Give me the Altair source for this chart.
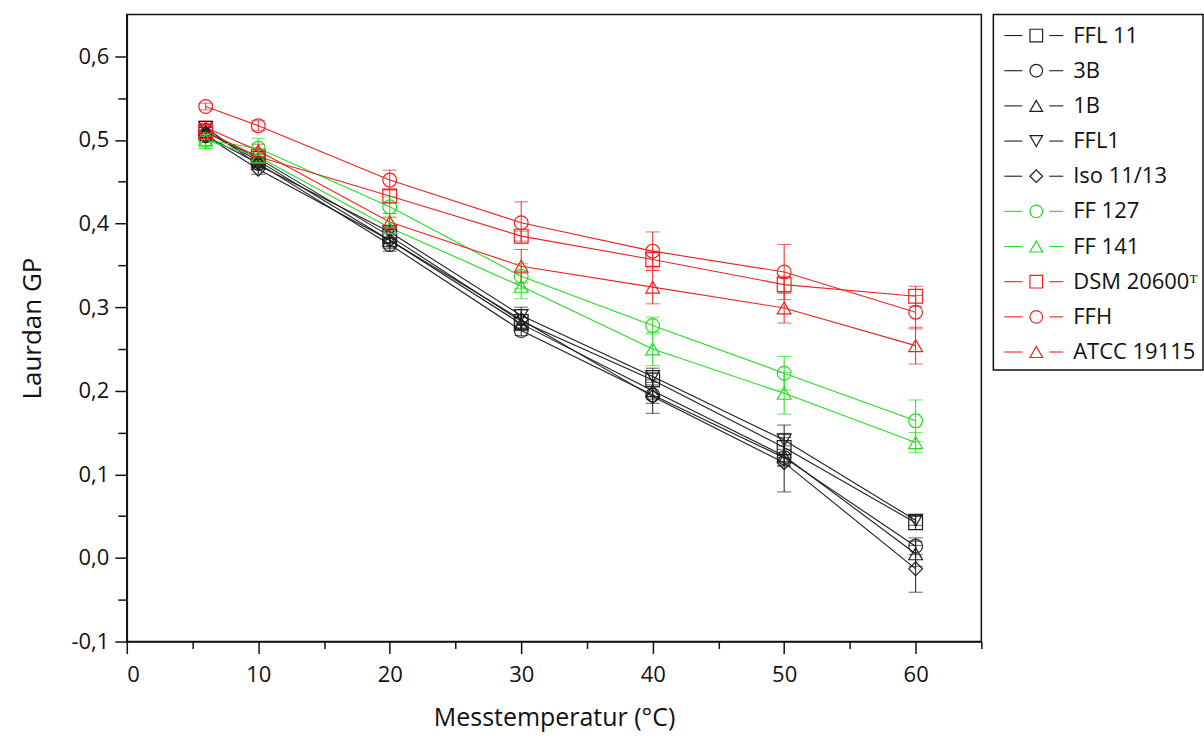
import altair as alt
import pandas as pd

temps = [6, 10, 20, 30, 40, 50, 60]

series_names = ["FFL 11", "3B", "1B", "FFL1", "Iso 11/13",
                "FF 127", "FF 141", "DSM 20600ᵀ", "FFH", "ATCC 19115"]
series_colors = ["#1e1e1e", "#1e1e1e", "#1e1e1e", "#1e1e1e", "#1e1e1e",
                 "#22dd22", "#22dd22", "#ee2222", "#ee2222", "#ee2222"]
series_shapes = ["square", "circle", "triangle-up", "triangle-down", "diamond",
                 "circle", "triangle-up", "square", "circle", "triangle-up"]

ffl11_gp = [0.510, 0.478, 0.385, 0.283, 0.213, 0.132, 0.042]
b3_gp = [0.505, 0.472, 0.375, 0.272, 0.195, 0.120, 0.014]
b1_gp = [0.510, 0.475, 0.380, 0.280, 0.200, 0.122, 0.005]
ffl1_gp = [0.515, 0.470, 0.390, 0.290, 0.217, 0.141, 0.045]
iso_gp = [0.505, 0.465, 0.380, 0.285, 0.193, 0.114, -0.013]
ff127_gp = [0.500, 0.490, 0.420, 0.337, 0.278, 0.221, 0.164]
ff141_gp = [0.500, 0.480, 0.395, 0.325, 0.250, 0.197, 0.138]
dsm_gp = [0.510, 0.480, 0.433, 0.385, 0.357, 0.327, 0.313]
ffh_gp = [0.540, 0.517, 0.452, 0.401, 0.367, 0.342, 0.294]
atcc_gp = [0.515, 0.487, 0.402, 0.349, 0.324, 0.299, 0.254]

ffl11_err = [0.005, 0.005, 0.008, 0.008, 0.008, 0.012, 0.008]
b3_err = [0.005, 0.005, 0.008, 0.006, 0.010, 0.010, 0.010]
b1_err = [0.005, 0.005, 0.008, 0.008, 0.010, 0.012, 0.015]
ffl1_err = [0.005, 0.005, 0.008, 0.010, 0.010, 0.018, 0.006]
iso_err = [0.006, 0.006, 0.010, 0.012, 0.020, 0.035, 0.028]
ff127_err = [0.010, 0.012, 0.012, 0.015, 0.010, 0.020, 0.025]
ff141_err = [0.010, 0.010, 0.012, 0.015, 0.020, 0.025, 0.012]
dsm_err = [0.006, 0.006, 0.008, 0.006, 0.010, 0.010, 0.012]
ffh_err = [0.004, 0.006, 0.012, 0.025, 0.023, 0.033, 0.020]
atcc_err = [0.008, 0.008, 0.010, 0.020, 0.020, 0.018, 0.022]

all_vals = [ffl11_gp, b3_gp, b1_gp, ffl1_gp, iso_gp, ff127_gp, ff141_gp, dsm_gp, ffh_gp, atcc_gp]
all_errs = [ffl11_err, b3_err, b1_err, ffl1_err, iso_err, ff127_err, ff141_err, dsm_err, ffh_err, atcc_err]

x_tick_values = list(range(0, 66, 5))
y_tick_values = [round(-0.1 + 0.05 * i, 2) for i in range(15)]

rows = []
for name, vals, errs in zip(series_names, all_vals, all_errs):
    for t, v, e in zip(temps, vals, errs):
        rows.append({"series": name, "temp": t, "gp": v, "lo": v - e, "hi": v + e})
df = pd.DataFrame(rows)

FONT = "Open Sans"

x_scale = alt.Scale(domain=[0, 65], nice=False, zero=False)
y_scale = alt.Scale(domain=[-0.1, 0.65], nice=False, zero=False)
color = alt.Color("series:N", scale=alt.Scale(domain=series_names, range=series_colors), legend=None)
shape = alt.Shape("series:N", scale=alt.Scale(domain=series_names, range=series_shapes), legend=None)

x_axis = alt.Axis(
    title="Messtemperatur (°C)", values=x_tick_values,
    labelExpr="datum.value % 10 === 0 ? datum.label : ''",
    tickSize={"condition": {"test": "datum.value % 10 === 0", "value": 12}, "value": 7},
    grid=False, labelFontSize=22, titleFontSize=25, labelPadding=11, titlePadding=20,
    titleFontWeight="normal", labelFont=FONT, titleFont=FONT,
)
y_axis = alt.Axis(
    title="Laurdan GP", values=y_tick_values,
    labelExpr="round(datum.value*100) % 10 === 0 ? replace(replace(format(datum.value, '.1f'), '.', ','), '\u2212', '-') : ''",
    tickSize={"condition": {"test": "round(datum.value*100) % 10 === 0", "value": 12}, "value": 9},
    grid=False, labelFontSize=22, titleFontSize=26, labelPadding=6, titlePadding=26,
    titleFontWeight="normal", labelFont=FONT, titleFont=FONT,
)

base = alt.Chart(df)
x_enc = alt.X("temp:Q", scale=x_scale, axis=x_axis)
y_enc = alt.Y("gp:Q", scale=y_scale, axis=y_axis)

lines = base.mark_line(strokeWidth=1.1).encode(x=x_enc, y=y_enc, color=color)
err = base.mark_rule(strokeWidth=1).encode(
    x="temp:Q", y=alt.Y("lo:Q", scale=y_scale), y2="hi:Q", color=color)
cap_lo = base.mark_tick(orient="horizontal", size=14, thickness=1).encode(
    x="temp:Q", y=alt.Y("lo:Q", scale=y_scale), color=color)
cap_hi = base.mark_tick(orient="horizontal", size=14, thickness=1).encode(
    x="temp:Q", y=alt.Y("hi:Q", scale=y_scale), color=color)
points = base.mark_point(filled=False, size=190, strokeWidth=1.2, opacity=1).encode(
    x="temp:Q", y="gp:Q", color=color, shape=shape)

main = alt.layer(lines, err, cap_lo, cap_hi, points).properties(width=856, height=628)

# legend panel
leg_df = pd.DataFrame({"series": series_names})
leg_y = alt.Y("series:N", scale=alt.Scale(type="point", domain=series_names, range=[21, 338], padding=0), axis=None)
leg_color = alt.Color("series:N", scale=alt.Scale(domain=series_names, range=series_colors), legend=None)
leg_shape = alt.Shape("series:N", scale=alt.Scale(domain=series_names, range=series_shapes), legend=None)
leg_base = alt.Chart(leg_df)
seg_left = leg_base.mark_rule(strokeWidth=1.1).encode(
    x=alt.value(11), x2=alt.value(29), y=leg_y, color=leg_color)
seg_right = leg_base.mark_rule(strokeWidth=1.1).encode(
    x=alt.value(56), x2=alt.value(70), y=leg_y, color=leg_color)
leg_pts = leg_base.mark_point(filled=False, size=160, strokeWidth=1.2, opacity=1).encode(
    x=alt.value(43), y=leg_y, color=leg_color, shape=leg_shape)
leg_txt = leg_base.mark_text(align="left", baseline="middle", font=FONT, fontSize=22, color="#111111").encode(
    x=alt.value(80), y=leg_y, text="series:N")
legend = alt.layer(seg_left, seg_right, leg_pts, leg_txt).properties(width=210, height=356)

chart = alt.hconcat(main, legend, spacing=9).resolve_scale(
    color="independent", shape="independent", y="independent"
).properties(
    padding={"left": 18, "top": 13, "right": 0, "bottom": 0},
    background="white",
).configure_view(
    stroke="#111111", strokeWidth=1.5
).configure_axis(
    domainColor="#111111", domainWidth=1.6, tickColor="#111111", tickWidth=1.5,
    labelColor="#111111", titleColor="#111111",
).configure_concat(spacing=9)

chart.save("out.html", embed_options={"renderer": "svg", "actions": False})
